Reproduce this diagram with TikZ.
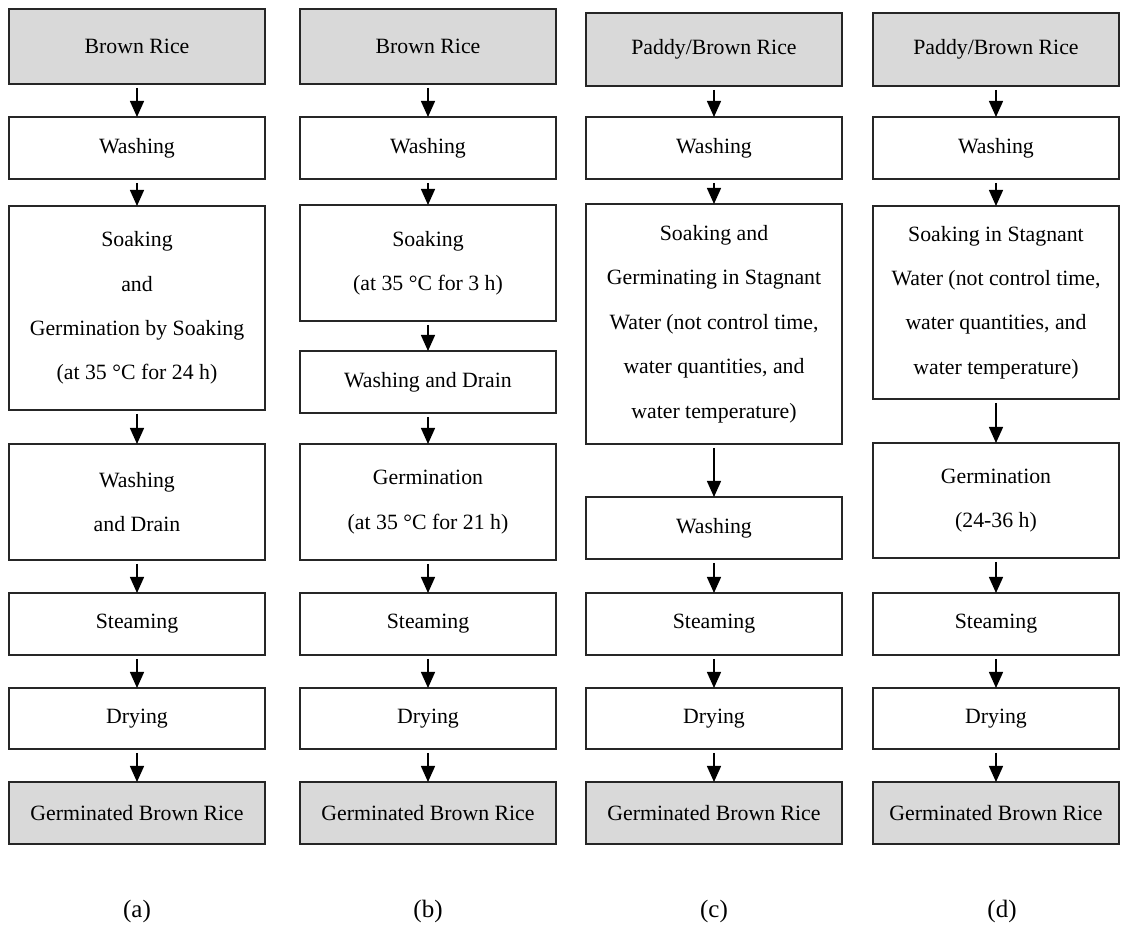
\documentclass[tikz,border=0pt]{standalone}
\usepackage{fontspec}
\setmainfont{Liberation Serif}
\usetikzlibrary{positioning, arrows.meta}

\begin{document}
\begin{tikzpicture}[x=0.5pt, y=-0.5pt, font=\fontsize{10.9}{22.2}\selectfont,
    box/.style={draw=black!85, line width=0.6pt, align=center, minimum width=128pt, inner sep=0pt, outer sep=0pt},
    endbox/.style={box, fill=black!15},
    flow/.style={-{Triangle[length=8pt, width=7pt]}, line width=0.7pt, shorten <=2pt},
    tag/.style={font=\fontsize{12.5}{14}\selectfont},
    node distance=16.5pt]
  \useasboundingbox (0,0) rectangle (1121,930);

  % (a)
  \node[endbox, minimum height=37.5pt, anchor=north] (a1) at (137,9) {Brown Rice};
  \node[box, minimum height=31pt, below=of a1] (a2) {Washing};
  \node[box, minimum height=102pt, below=13.5pt of a2] (a3) {Soaking\\and\\Germination by Soaking\\(at 35 °C for 24 h)};
  \node[box, minimum height=58pt, below=17pt of a3] (a4) {Washing\\and Drain};
  \node[box, minimum height=31pt, below=of a4] (a5) {Steaming};
  \node[box, minimum height=30.5pt, below=of a5] (a6) {Drying};
  \node[endbox, minimum height=31pt, below=of a6] (a7) {Germinated Brown Rice};
  \node[tag] (la) at (137,911) {(a)};
  \foreach \i/\j in {1/2, 2/3, 3/4, 4/5, 5/6, 6/7}
    \draw[flow] (a\i) -- (a\j);

  % (b)
  \node[endbox, minimum height=37.5pt, anchor=north] (b1) at (428,9) {Brown Rice};
  \node[box, minimum height=31pt, below=of b1] (b2) {Washing};
  \node[box, minimum height=58pt, below=13pt of b2] (b3) {Soaking\\(at 35 °C for 3 h)};
  \node[box, minimum height=31pt, below=15pt of b3] (b4) {Washing and Drain};
  \node[box, minimum height=58pt, below=15.5pt of b4] (b5) {Germination\\(at 35 °C for 21 h)};
  \node[box, minimum height=31pt, below=of b5] (b6) {Steaming};
  \node[box, minimum height=30.5pt, below=of b6] (b7) {Drying};
  \node[endbox, minimum height=31pt, below=of b7] (b8) {Germinated Brown Rice};
  \node[tag] (lb) at (428,911) {(b)};
  \foreach \i/\j in {1/2, 2/3, 3/4, 4/5, 5/6, 6/7, 7/8}
    \draw[flow] (b\i) -- (b\j);

  % (c)
  \node[endbox, minimum height=36.5pt, anchor=north] (c1) at (714,13) {Paddy/Brown Rice};
  \node[box, minimum height=31pt, below=15.5pt of c1] (c2) {Washing};
  \node[box, minimum height=120pt, below=12.5pt of c2] (c3) {Soaking and\\Germinating in Stagnant\\Water (not control time,\\water quantities, and\\water temperature)};
  \node[box, minimum height=31pt, below=26.5pt of c3] (c4) {Washing};
  \node[box, minimum height=31pt, below=17pt of c4] (c5) {Steaming};
  \node[box, minimum height=30.5pt, below=of c5] (c6) {Drying};
  \node[endbox, minimum height=31pt, below=of c6] (c7) {Germinated Brown Rice};
  \node[tag] (lc) at (714,911) {(c)};
  \foreach \i/\j in {1/2, 2/3, 3/4, 4/5, 5/6, 6/7}
    \draw[flow] (c\i) -- (c\j);

  % (d)
  \begin{scope}[box/.append style={minimum width=123pt}]
    \node[endbox, minimum height=36.5pt, anchor=north] (d1) at (996,13) {Paddy/Brown Rice};
    \node[box, minimum height=31pt, below=15.5pt of d1] (d2) {Washing};
    \node[box, minimum height=96.5pt, below=13.5pt of d2] (d3) {Soaking in Stagnant\\Water (not control time,\\water quantities, and\\water temperature)};
    \node[box, minimum height=57.5pt, below=22pt of d3] (d4) {Germination\\(24-36 h)};
    \node[box, minimum height=31pt, below=17.5pt of d4] (d5) {Steaming};
    \node[box, minimum height=30.5pt, below=of d5] (d6) {Drying};
    \node[endbox, minimum height=31pt, below=of d6] (d7) {Germinated Brown Rice};
  \end{scope}
  \node[tag] (ld) at (1002,911) {(d)};
  \foreach \i/\j in {1/2, 2/3, 3/4, 4/5, 5/6, 6/7}
    \draw[flow] (d\i) -- (d\j);
\end{tikzpicture}
\end{document}
